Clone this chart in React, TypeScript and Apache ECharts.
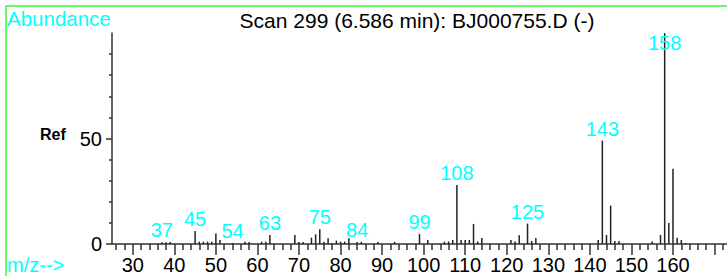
import React, { useEffect, useRef } from "react";
import * as echarts from "echarts";

const titleText = "Scan 299 (6.586 min): BJ000755.D (-)";
const yAxisName = "Abundance";
const xAxisName = "m/z-->";
const refText = "Ref";

const mzValues = [
  37, 38, 39, 45, 46, 47, 48, 49, 50, 51, 54, 57, 58, 61, 62, 63, 69, 70, 71, 73,
  74, 75, 76, 77, 78, 79, 80, 81, 82, 84, 85, 89, 93, 99, 101, 105, 106, 107, 108, 109,
  110, 111, 112, 113, 114, 121, 122, 123, 125, 126, 127, 142, 143, 144, 145, 146, 147, 155, 157, 158,
  159, 160, 161, 162, 163,
];
const abundances = [
  0.8, 0.8, 1.0, 6.2, 1.1, 1.1, 1.1, 1.1, 5.0, 1.9, 0.5, 1.1, 1.0, 1.1, 1.1, 4.3, 4.3, 1.0, 1.0, 3.0,
  4.6, 7.0, 1.1, 2.7, 0.5, 1.6, 1.1, 1.1, 2.7, 1.0, 1.0, 1.0, 1.0, 4.7, 1.9, 1.1, 1.2, 1.9, 28, 1.9,
  1.9, 1.9, 9.5, 1.2, 2.8, 1.9, 1.2, 4.2, 9.7, 1.4, 2.9, 1.9, 49, 4.3, 18.2, 1.4, 1.4, 1.2, 4.3, 100,
  10, 35.7, 3.0, 1.9, 0.5,
];
const labeledPeaks = [37, 45, 54, 63, 75, 84, 99, 108, 125, 143, 158];

const xMin = 25;
const xMax = 173;
const xLabelValues = [30, 40, 50, 60, 70, 80, 90, 100, 110, 120, 130, 140, 150, 160];
const xMajorTicks = [30, 40, 50, 60, 70, 80, 90, 100, 110, 120, 130, 140, 150, 160, 170];
const xMinorTicks = [
  26, 28, 32, 34, 36, 38, 42, 44, 46, 48, 52, 54, 56, 58, 62, 64, 66, 68, 72, 74, 76, 78,
  82, 84, 86, 88, 92, 94, 96, 98, 102, 104, 106, 108, 112, 114, 116, 118, 122, 124, 126, 128,
  132, 134, 136, 138, 142, 144, 146, 148, 152, 154, 156, 158, 162, 164, 166, 168, 172,
];
const yLabelValues = [0, 50];
const yMinorTicks = [10, 20, 30, 40, 60, 70, 80, 90];

const FONT = "'Liberation Sans', Arial, sans-serif";
const CYAN = "#00ffff";
const AXIS = "#333333";

export default function App() {
  const ref = useRef<HTMLDivElement>(null);

  useEffect(() => {
    if (!ref.current) return;
    const chart = echarts.init(ref.current, null, { renderer: "svg" });

    const maxVal = Math.max(...abundances);
    const data = mzValues.map((m, i) => {
      const v = abundances[i];
      const item: any = { value: [m, v] };
      if (labeledPeaks.includes(m)) {
        const isTop = v >= maxVal;
        item.label = {
          show: true,
          formatter: String(m),
          position: isTop ? "insideTop" : "top",
          distance: isTop ? 0 : 2,
          color: CYAN,
          fontSize: 20,
          fontFamily: FONT,
        };
      }
      return item;
    });

    const option: any = {
      animation: false,
      grid: { left: 112, right: 0, top: 33, bottom: 32, containLabel: false },
      xAxis: [
        {
          type: "value",
          min: xMin,
          max: xMax,
          position: "bottom",
          axisLine: { show: true, lineStyle: { color: AXIS, width: 1.5 } },
          axisTick: { show: true, customValues: xMajorTicks, length: 11, lineStyle: { color: AXIS, width: 1.5 } },
          axisLabel: { show: true, customValues: xLabelValues, fontSize: 20, fontFamily: FONT, color: "#000", margin: 11 },
          splitLine: { show: false },
        },
        {
          type: "value",
          min: xMin,
          max: xMax,
          position: "bottom",
          offset: 0,
          axisLine: { show: false },
          axisTick: { show: true, customValues: xMinorTicks, length: 6, lineStyle: { color: AXIS, width: 1.5 } },
          axisLabel: { show: false },
          splitLine: { show: false },
        },
      ],
      yAxis: [
        {
          type: "value",
          min: 0,
          max: 100,
          position: "left",
          axisLine: { show: true, lineStyle: { color: AXIS, width: 1.5 } },
          axisTick: { show: true, customValues: yLabelValues, length: 6, lineStyle: { color: AXIS, width: 1.5 } },
          axisLabel: { show: true, customValues: yLabelValues, fontSize: 20, fontFamily: FONT, color: "#000", margin: 10 },
          splitLine: { show: false },
        },
        {
          type: "value",
          min: 0,
          max: 100,
          position: "left",
          offset: 0,
          axisLine: { show: false },
          axisTick: { show: true, customValues: yMinorTicks, length: 3, lineStyle: { color: AXIS, width: 1.5 } },
          axisLabel: { show: false },
          splitLine: { show: false },
        },
      ],
      series: [
        {
          type: "bar",
          xAxisIndex: 0,
          yAxisIndex: 0,
          barWidth: 1.5,
          itemStyle: { color: "#222" },
          data,
          z: 2,
        },
      ],
      graphic: [
        {
          type: "rect",
          shape: { x: 6, y: 6, width: 800, height: 400 },
          style: { fill: "none", stroke: "#33ff33", lineWidth: 1.5 },
          silent: true,
        },
        {
          type: "text",
          x: 7,
          y: 18,
          style: { text: yAxisName, fill: CYAN, font: `20.5px ${FONT}`, textAlign: "left", textVerticalAlign: "middle", align: "left", verticalAlign: "middle" },
        },
        {
          type: "text",
          x: 417,
          y: 20.5,
          style: { text: titleText, fill: "#000", font: `21px ${FONT}`, textAlign: "center", textVerticalAlign: "middle", align: "center", verticalAlign: "middle" },
        },
        {
          type: "text",
          x: 7,
          y: 265,
          style: { text: xAxisName, fill: CYAN, font: `20px ${FONT}`, textAlign: "left", textVerticalAlign: "middle", align: "left", verticalAlign: "middle" },
        },
        {
          type: "text",
          x: 40,
          y: 134,
          style: { text: refText, fill: "#000", font: `bold 16px ${FONT}`, textAlign: "left", textVerticalAlign: "middle", align: "left", verticalAlign: "middle" },
        },
      ],
    };

    chart.setOption(option);
    return () => chart.dispose();
  }, []);

  return (
    <div
      ref={ref}
      style={{ position: "fixed", left: 0, top: 0, width: 727, height: 276, background: "#fff" }}
    />
  );
}
